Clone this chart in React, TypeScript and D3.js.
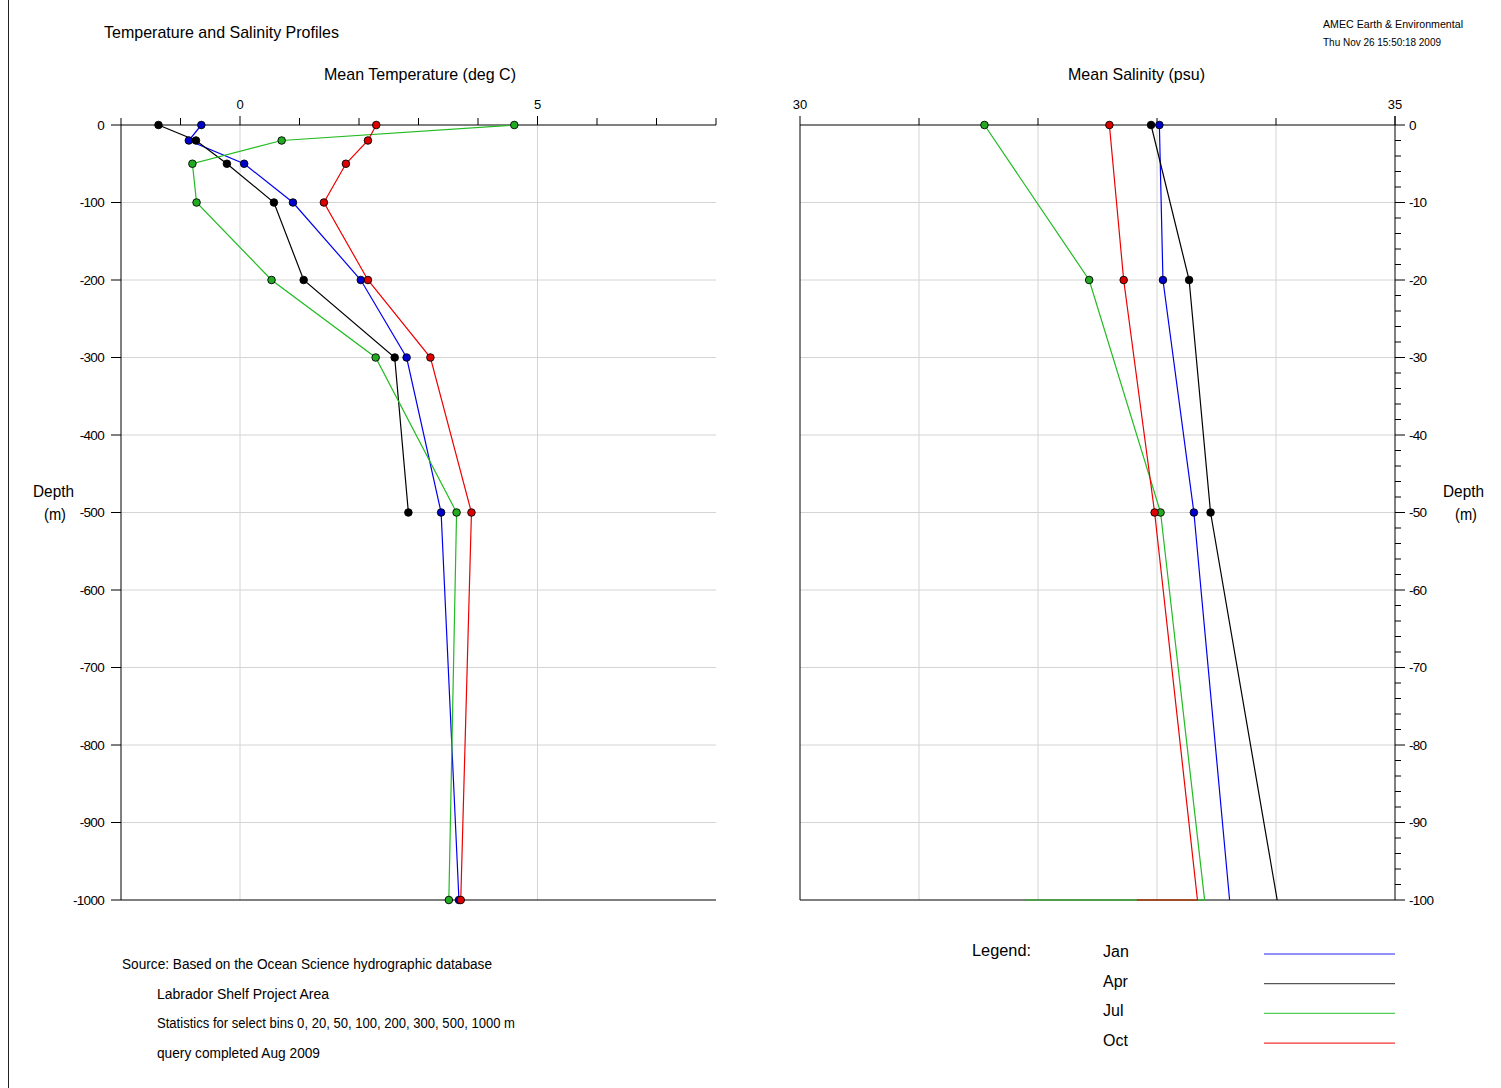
import React from 'react';
import * as d3 from 'd3';

const depths = [0, 20, 50, 100, 200, 300, 500, 1000];
const months = ['Jan', 'Apr', 'Jul', 'Oct'];
const monthColors = ['#0000ee', '#000000', '#22bb22', '#ee0000'];
const markerColors = ['#0000cc', '#000000', '#22aa22', '#dd0000'];
const legendColors = ['#2222ee', '#555555', '#55cc55', '#ee3333'];

const tempJan = [-0.65, -0.86, 0.07, 0.89, 2.03, 2.80, 3.38, 3.68];
const tempApr = [-1.37, -0.74, -0.22, 0.57, 1.07, 2.60, 2.83, null];
const tempJul = [4.61, 0.70, -0.80, -0.73, 0.53, 2.28, 3.64, 3.51];
const tempOct = [2.29, 2.15, 1.78, 1.41, 2.15, 3.20, 3.89, 3.71];

const salJan = [33.02, 33.05, 33.31, 33.61, null, null, null, null];
const salApr = [32.95, 33.27, 33.45, 34.01, null, null, null, null];
const salJul = [31.55, 32.43, 33.03, 33.40, 31.89, null, null, null];
const salOct = [32.60, 32.72, 32.98, 33.34, 32.83, null, null, null];

const tempSeries = [tempJan, tempApr, tempJul, tempOct];
const salSeries = [salJan, salApr, salJul, salOct];

const tempTicks = [-2, -1, 0, 1, 2, 3, 4, 5, 6, 7, 8];
const tempLabels = [0, 5];
const tempDepthTicks = [0, -100, -200, -300, -400, -500, -600, -700, -800, -900, -1000];
const salTicks = [30, 31, 32, 33, 34, 35];
const salLabels = [30, 35];
const salDepthMajor = [0, -10, -20, -30, -40, -50, -60, -70, -80, -90, -100];

const sourceLines = [
  'Source: Based on the Ocean Science hydrographic database',
  'Labrador Shelf Project Area',
  'Statistics for select bins 0, 20, 50, 100, 200, 300, 500, 1000 m',
  'query completed Aug 2009',
];
const sourceWidths = [370, 172, 358, 163];

const FONT = '"Liberation Sans", Arial, sans-serif';
const GRID = '#d4d4d4';

export default function App() {
  const tx = d3.scaleLinear().domain([-2, 8]).range([121, 716]);
  const ty = d3.scaleLinear().domain([0, -1000]).range([125, 900]);
  const sx = d3.scaleLinear().domain([30, 35]).range([800, 1395]);
  const sy = d3.scaleLinear().domain([0, -100]).range([125, 900]).clamp(true);

  const tLine = d3
    .line<[number, number | null]>()
    .defined((d) => d[1] != null)
    .x((d) => tx(d[1] as number))
    .y((d) => ty(-d[0]));
  const sLine = d3
    .line<[number, number | null]>()
    .defined((d) => d[1] != null)
    .x((d) => sx(d[1] as number))
    .y((d) => sy(-d[0]));

  const salMinor = d3.range(0, -101, -2);

  return (
    <svg
      width={1501}
      height={1088}
      style={{ position: 'absolute', left: 0, top: 0, background: '#fff' }}
      fontFamily={FONT}
    >
      <rect x={0} y={0} width={1501} height={1088} fill="#fff" />
      <line x1={8.5} y1={0} x2={8.5} y2={1088} stroke="#222" strokeWidth={1} />

      {/* Header texts */}
      <text x={104} y={38} fontSize={17} textLength={235} lengthAdjust="spacingAndGlyphs">
        Temperature and Salinity Profiles
      </text>
      <text x={1323} y={28} fontSize={11} textLength={140} lengthAdjust="spacingAndGlyphs">
        AMEC Earth &amp; Environmental
      </text>
      <text x={1323} y={46} fontSize={11} textLength={118} lengthAdjust="spacingAndGlyphs">
        Thu Nov 26 15:50:18 2009
      </text>
      <text x={324} y={80} fontSize={17} textLength={192} lengthAdjust="spacingAndGlyphs">
        Mean Temperature (deg C)
      </text>
      <text x={1068} y={80} fontSize={17} textLength={137} lengthAdjust="spacingAndGlyphs">
        Mean Salinity (psu)
      </text>

      {/* Depth labels */}
      <text x={33} y={497} fontSize={17} textLength={41} lengthAdjust="spacingAndGlyphs">Depth</text>
      <text x={44} y={520} fontSize={17} textLength={22} lengthAdjust="spacingAndGlyphs">(m)</text>
      <text x={1443} y={497} fontSize={17} textLength={41} lengthAdjust="spacingAndGlyphs">Depth</text>
      <text x={1455} y={520} fontSize={17} textLength={22} lengthAdjust="spacingAndGlyphs">(m)</text>

      {/* ===== Temperature panel ===== */}
      <g>
        {tempDepthTicks.slice(1, -1).map((d) => (
          <line key={'tg' + d} x1={tx(-2)} x2={tx(8)} y1={ty(d)} y2={ty(d)} stroke={GRID} />
        ))}
        {tempLabels.map((v) => (
          <line key={'tv' + v} x1={tx(v)} x2={tx(v)} y1={ty(0)} y2={ty(-1000)} stroke={GRID} />
        ))}
        <line x1={tx(-2)} x2={tx(8)} y1={ty(0)} y2={ty(0)} stroke="#000" />
        <line x1={tx(-2)} x2={tx(8)} y1={ty(-1000)} y2={ty(-1000)} stroke="#000" />
        <line x1={tx(-2)} x2={tx(-2)} y1={ty(0)} y2={ty(-1000)} stroke="#000" />
        {tempTicks.map((v) => (
          <line
            key={'tt' + v}
            x1={tx(v)}
            x2={tx(v)}
            y1={ty(0)}
            y2={ty(0) - (tempLabels.includes(v) ? 9 : 7)}
            stroke="#000"
          />
        ))}
        {tempLabels.map((v) => (
          <text key={'tl' + v} x={tx(v)} y={109} fontSize={13} textAnchor="middle">
            {v}
          </text>
        ))}
        {tempDepthTicks.map((d) => (
          <g key={'td' + d}>
            <line x1={tx(-2) - 10} x2={tx(-2)} y1={ty(d)} y2={ty(d)} stroke="#000" />
            <text x={tx(-2) - 17} y={ty(d) + 4.5} fontSize={13.5} textAnchor="end" letterSpacing={-0.7}>
              {d}
            </text>
          </g>
        ))}
        {tempSeries.map((s, i) => (
          <path
            key={'tp' + i}
            d={tLine(depths.map((d, j) => [d, s[j]] as [number, number | null])) || ''}
            fill="none"
            stroke={monthColors[i]}
            strokeWidth={1.2}
          />
        ))}
        {tempSeries.map((s, i) =>
          depths.map((d, j) =>
            s[j] == null ? null : (
              <circle
                key={'tc' + i + '-' + j}
                cx={tx(s[j] as number)}
                cy={ty(-d)}
                r={3.8}
                fill={markerColors[i]}
                stroke="#000"
                strokeWidth={0.9}
              />
            )
          )
        )}
      </g>

      {/* ===== Salinity panel ===== */}
      <g>
        {salDepthMajor.slice(1, -1).map((d) => (
          <line key={'sg' + d} x1={sx(30)} x2={sx(35)} y1={sy(d)} y2={sy(d)} stroke={GRID} />
        ))}
        {salTicks.slice(1, -1).map((v) => (
          <line key={'sv' + v} x1={sx(v)} x2={sx(v)} y1={sy(0)} y2={sy(-100)} stroke={GRID} />
        ))}
        <line x1={sx(30)} x2={sx(35)} y1={sy(0)} y2={sy(0)} stroke="#000" />
        <line x1={sx(30)} x2={sx(35)} y1={sy(-100)} y2={sy(-100)} stroke="#000" />
        <line x1={sx(30)} x2={sx(30)} y1={sy(0)} y2={sy(-100)} stroke="#000" />
        <line x1={sx(35)} x2={sx(35)} y1={sy(0) - 9} y2={sy(-100)} stroke="#000" />
        {salTicks.map((v) => (
          <line
            key={'st' + v}
            x1={sx(v)}
            x2={sx(v)}
            y1={sy(0)}
            y2={sy(0) - (salLabels.includes(v) ? 9 : 7)}
            stroke="#000"
          />
        ))}
        {salLabels.map((v) => (
          <text key={'sl' + v} x={sx(v)} y={109} fontSize={13} textAnchor="middle">
            {v}
          </text>
        ))}
        {salMinor.map((d) => (
          <line
            key={'sm' + d}
            x1={sx(35)}
            x2={sx(35) + (salDepthMajor.includes(d) ? 10 : 6)}
            y1={sy(d)}
            y2={sy(d)}
            stroke="#000"
          />
        ))}
        {salDepthMajor.map((d) => (
          <text key={'sdl' + d} x={sx(35) + 14} y={sy(d) + 4.5} fontSize={13.5} letterSpacing={-0.7}>
            {d}
          </text>
        ))}
        {salSeries.map((s, i) => (
          <path
            key={'sp' + i}
            d={sLine(depths.map((d, j) => [d, s[j]] as [number, number | null])) || ''}
            fill="none"
            stroke={monthColors[i]}
            strokeWidth={1.2}
          />
        ))}
        {salSeries.map((s, i) =>
          depths.map((d, j) =>
            s[j] == null || -d <= sy.domain()[1] ? null : (
              <circle
                key={'sc' + i + '-' + j}
                cx={sx(s[j] as number)}
                cy={sy(-d)}
                r={3.8}
                fill={markerColors[i]}
                stroke="#000"
                strokeWidth={0.9}
              />
            )
          )
        )}
      </g>

      {/* Source text */}
      {sourceLines.map((t, i) => (
        <text
          key={'src' + i}
          x={i === 0 ? 122 : 157}
          y={969 + i * 29.7}
          fontSize={14}
          textLength={sourceWidths[i]}
          lengthAdjust="spacingAndGlyphs"
        >
          {t}
        </text>
      ))}

      {/* Legend */}
      <text x={972} y={956} fontSize={17} textLength={59} lengthAdjust="spacingAndGlyphs">
        Legend:
      </text>
      {months.map((m, i) => (
        <g key={'lg' + m}>
          <text x={1103} y={957 + i * 29.7} fontSize={16}>
            {m}
          </text>
          <line
            x1={1264}
            x2={1395}
            y1={954 + i * 29.7}
            y2={954 + i * 29.7}
            stroke={legendColors[i]}
            strokeWidth={1.2}
          />
        </g>
      ))}
    </svg>
  );
}
